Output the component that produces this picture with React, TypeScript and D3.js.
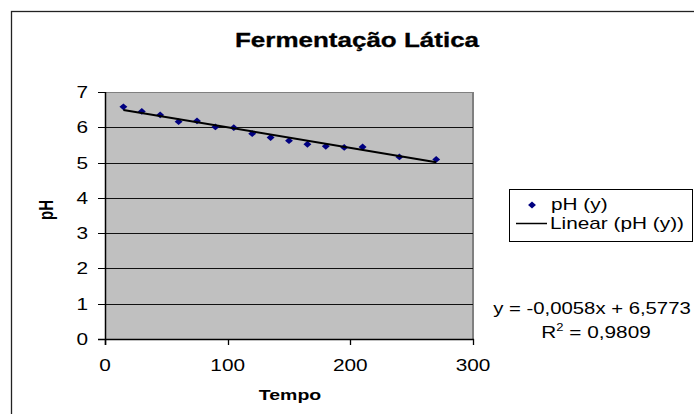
import { useEffect, useRef } from "react";
import * as d3 from "d3";

const tempo = [15, 30, 45, 60, 75, 90, 105, 120, 135, 150, 165, 180, 195, 210, 240, 270];
const ph = [6.58, 6.45, 6.35, 6.16, 6.18, 6.01, 5.99, 5.82, 5.71, 5.62, 5.52, 5.46, 5.43, 5.44, 5.16, 5.09];
const xTicks = [0, 100, 200, 300];
const yTicks = [0, 1, 2, 3, 4, 5, 6, 7];
const slope = -0.0058;
const intercept = 6.5773;
const equationLabel = "y = -0,0058x + 6,5773";
const r2Value = "0,9809";

const FONT = "'Liberation Sans', Arial, sans-serif";
const SX = 1.3; // the source picture is stretched sideways

export default function App() {
  const ref = useRef<SVGSVGElement>(null);

  useEffect(() => {
    const W = 694, H = 414;
    const svg = d3.select(ref.current);
    svg.selectAll("*").remove();
    svg.attr("width", W).attr("height", H);

    const text = (x: number, y: number, s: string, size: number, anchor = "start", bold = false, rot = 0, sx = SX) =>
      svg
        .append("text")
        .attr("transform", `translate(${x},${y}) scale(${sx},1)${rot ? ` rotate(${rot})` : ""}`)
        .attr("text-anchor", anchor)
        .attr("font-family", FONT)
        .attr("font-size", size)
        .attr("font-weight", bold ? "bold" : "normal")
        .attr("fill", "#000")
        .text(s);

    // outer chart border
    svg.append("rect").attr("x", 11.5).attr("y", 11.5).attr("width", 700).attr("height", 420)
      .attr("fill", "#fff").attr("stroke", "#222").attr("stroke-width", 1.3);

    const left = 105, right = 473, top = 92, bottom = 339;
    const x = d3.scaleLinear().domain([0, 300]).range([left, right]);
    const y = d3.scaleLinear().domain([0, 7]).range([bottom, top]);

    // plot area
    svg.append("rect").attr("x", left).attr("y", top).attr("width", right - left).attr("height", bottom - top)
      .attr("fill", "#c0c0c0");
    svg.append("path").attr("d", `M${left},${top + 0.5}H${right}`).attr("stroke", "#808080").attr("stroke-width", 1);
    svg.append("path").attr("d", `M${right},${top}V${bottom}`).attr("stroke", "#808080").attr("stroke-width", 2);

    // gridlines
    svg.append("g").selectAll("path").data(yTicks.filter((t) => t > 0 && t < 7)).enter().append("path")
      .attr("d", (d) => `M${left},${Math.round(y(d)) + 0.5}H${right}`)
      .attr("stroke", "#111").attr("stroke-width", 1);

    // axes
    svg.append("path").attr("d", `M${left + 0.5},${top}V${bottom + 6}`).attr("stroke", "#000").attr("stroke-width", 1.5);
    svg.append("path").attr("d", `M${left - 7},${bottom + 0.5}H${right + 1}`).attr("stroke", "#000").attr("stroke-width", 1.3);

    svg.append("g").selectAll("path").data(yTicks).enter().append("path")
      .attr("d", (d) => `M${left - 7},${Math.round(y(d)) + 0.5}H${left}`)
      .attr("stroke", "#000");
    svg.append("g").selectAll("path").data(xTicks).enter().append("path")
      .attr("d", (d) => `M${Math.round(x(d)) + 0.5},${bottom}V${bottom + 6}`)
      .attr("stroke", "#000").attr("stroke-width", 1.3);

    yTicks.forEach((t) => text(88, y(t) + 6, String(t), 16, "end"));
    xTicks.forEach((t) => text(x(t), 371, String(t), 16, "middle"));

    // data points
    const diamond = d3.symbol().type(d3.symbolDiamond2).size(30);
    svg.append("g").selectAll("path").data(tempo).enter().append("path")
      .attr("transform", (d, i) => `translate(${x(d)},${y(ph[i])}) scale(1.15,1)`)
      .attr("d", diamond)
      .attr("fill", "#000080");

    // linear trendline
    const x0 = d3.min(tempo)!, x1 = d3.max(tempo)!;
    const trend = d3.line<number>().x((d) => x(d)).y((d) => y(slope * d + intercept));
    svg.append("path").attr("d", trend([x0, x1])).attr("stroke", "#000").attr("stroke-width", 2).attr("fill", "none");

    // titles
    text(357, 47, "Fermentação Lática", 20, "middle", true)
      .attr("stroke", "#000").attr("stroke-width", 0.3);
    text(290, 400, "Tempo", 15, "middle", true);
    text(53, 210, "pH", 15, "middle", true, -90);

    // legend
    svg.append("rect").attr("x", 509.5).attr("y", 189.5).attr("width", 183).attr("height", 52)
      .attr("fill", "#fff").attr("stroke", "#000").attr("stroke-width", 1);
    svg.append("path").attr("transform", "translate(532,205) scale(1.15,1)").attr("d", diamond).attr("fill", "#000080");
    text(551, 210, "pH (y)", 16);
    svg.append("path").attr("d", "M516,223.5H547").attr("stroke", "#000").attr("stroke-width", 1.5);
    text(550, 229, "Linear (pH (y))", 16);

    // equation
    text(592, 314, equationLabel, 16, "middle", false, 0, 1.27);
    const r2 = text(596, 338, "", 16, "middle");
    r2.append("tspan").text("R");
    r2.append("tspan").attr("font-size", 10).attr("dy", -7).text("2");
    r2.append("tspan").attr("dy", 7).text(` = ${r2Value}`);
  }, []);

  return (
    <div style={{ position: "fixed", left: 0, top: 0, width: 694, height: 414, background: "#fff" }}>
      <svg ref={ref} style={{ display: "block" }} />
    </div>
  );
}
